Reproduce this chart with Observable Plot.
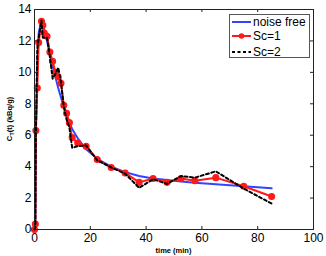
<!DOCTYPE html>
<html><head><meta charset="utf-8">
<script src="https://cdn.jsdelivr.net/npm/d3@7"></script>
<script src="https://cdn.jsdelivr.net/npm/@observablehq/plot@0.6"></script>
<style>
body{margin:0;background:#fff;}
#wrap{position:relative;width:326px;height:256px;font-family:"Liberation Sans",Arial,sans-serif;}
#legend{position:absolute;left:229px;top:14px;width:79px;height:42px;border:1px solid #555;background:#fff;font-size:12px;}
#legend .row{position:absolute;left:2px;height:14px;display:flex;align-items:center;}
#legend svg{display:block}
#legend span{margin-left:2px;line-height:14px}
</style></head>
<body><div id="wrap"></div>
<script>
const times = [0,0.3,0.5,1.0,1.5,2.5,3.0,3.5,4.5,5.5,6.5,7.5,8.5,9.5,10.5,11.5,12.5,13.5,15.5,18.5,22.5,27.5,32.5,37.5,42.5,47.5,52.5,57.5,65,75,85];
const noiseFree = [0,0.5,6.5,10.5,12.5,13.3,13.0,12.7,12.0,11.2,10.4,9.7,9.0,8.4,7.8,7.3,6.8,6.4,5.8,5.1,4.5,4.0,3.65,3.4,3.25,3.15,3.05,2.98,2.88,2.75,2.62];
const sc1 = [0,0.35,6.3,9.0,11.9,13.25,13.0,12.5,12.3,11.3,10.7,10.0,9.7,9.3,7.9,7.4,6.8,5.85,5.5,5.3,4.45,3.95,3.6,3.0,3.25,3.0,3.25,3.1,3.3,2.75,2.1];
const sc2 = [0,0.2,6.0,11.5,12.2,13.3,12.2,12.2,12.2,11.0,9.6,9.9,10.3,9.4,7.8,7.0,6.5,5.2,5.3,5.35,4.4,3.95,3.55,2.65,3.2,2.9,3.4,3.3,3.7,2.6,1.65];
const xTicks = [0,20,40,60,80,100];
const yTicks = [0,2,4,6,8,10,12,14];
const seriesNames = ["noise free","Sc=1","Sc=2"];
const colors = ["#3344ff","#ff1a1a","#000000"];

const rows = times.map((t,i)=>({t, nf:noiseFree[i], s1:sc1[i], s2:sc2[i]}));
const W=326,H=256,mL=34,mR=13,mT=9,mB=27;
const fw=W-mL-mR, fh=H-mT-mB, tl=3;

const chart = Plot.plot({
  width:W,height:H,marginLeft:mL,marginRight:mR,marginTop:mT,marginBottom:mB,
  style:{fontFamily:"'Liberation Sans',Arial,sans-serif",fontSize:"12px",color:"#000",background:"#fff"},
  x:{domain:[0,100]}, y:{domain:[0,14]},
  marks:[
    Plot.line(rows,{x:"t",y:"nf",stroke:colors[0],strokeWidth:2}),
    Plot.line(rows,{x:"t",y:"s1",stroke:colors[1],strokeWidth:2}),
    Plot.dot(rows,{x:"t",y:"s1",fill:colors[1],stroke:colors[1],r:2.8}),
    Plot.line(rows,{x:"t",y:"s2",stroke:colors[2],strokeWidth:2,strokeDasharray:"3,2.5"}),
    Plot.frame({stroke:"#222",strokeWidth:1}),
    Plot.tickX(xTicks,{x:d=>d,insetTop:fh-tl,stroke:"#222"}),
    Plot.tickX(xTicks,{x:d=>d,insetBottom:fh-tl,stroke:"#222"}),
    Plot.tickY(yTicks,{y:d=>d,insetRight:fw-tl,stroke:"#222"}),
    Plot.tickY(yTicks,{y:d=>d,insetLeft:fw-tl,stroke:"#222"}),
    Plot.axisX({ticks:xTicks,tickSize:0,tickPadding:4,label:null}),
    Plot.axisY({ticks:yTicks,tickSize:0,tickPadding:3,label:null})
  ]
});
document.getElementById("wrap").appendChild(chart);
const svg = d3.select(chart);
svg.append("text").attr("x",mL+fw*0.5+0).attr("y",H-3).attr("text-anchor","middle")
  .attr("font-size","7.5px").attr("font-weight","bold").attr("fill","#000").text("time (min)");
const yl = svg.append("text").attr("transform",`translate(12,${mT+fh/2}) rotate(-90)`).attr("text-anchor","middle")
  .attr("font-size","7.5px").attr("font-weight","bold").attr("fill","#000");
yl.append("tspan").text("C");
yl.append("tspan").attr("dy","2").attr("font-size","6px").text("T");
yl.append("tspan").attr("dy","-2").text("(t) (kBq/g)");

const leg = document.createElement("div"); leg.id="legend";
const ys=[0,14,30];
seriesNames.forEach((n,i)=>{
  const r=document.createElement("div"); r.className="row"; r.style.top=(ys[i])+"px";
  let inner = `<svg width="19" height="14"><line x1="0" x2="19" y1="7" y2="7" stroke="${colors[i]}" stroke-width="2" ${i===2?'stroke-dasharray="3,2.5"':''}/>${i===1?`<circle cx="9.5" cy="7" r="2.8" fill="${colors[1]}"/>`:''}</svg><span>${n}</span>`;
  r.innerHTML=inner; leg.appendChild(r);
});
document.getElementById("wrap").appendChild(leg);
</script></body></html>
